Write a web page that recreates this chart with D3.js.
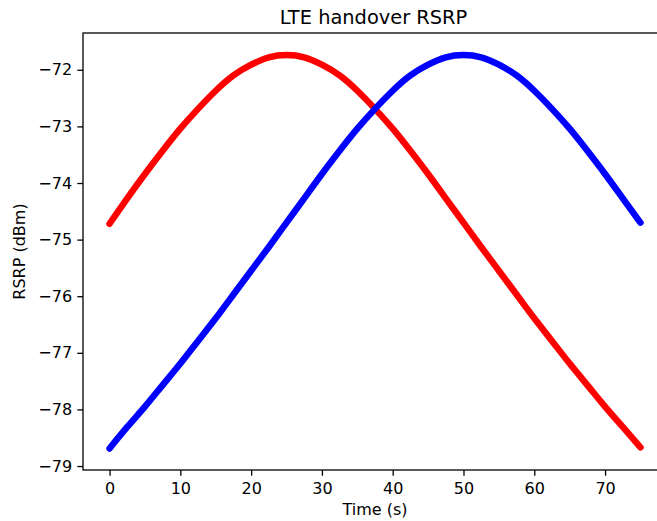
<!DOCTYPE html>
<html>
<head>
<meta charset="utf-8">
<script src="https://cdn.jsdelivr.net/npm/d3@7"></script>
<style>
  body { margin: 0; background: #fff; }
  svg { display: block; }
  text { font-family: "DejaVu Sans", sans-serif; fill: #000; }
</style>
</head>
<body>
<svg id="chart" width="657" height="521"></svg>
<script>

// time axis (s), sampled every 2.5 s
var times = [0, 2.5, 5, 7.5, 10, 12.5, 15, 17.5, 20, 22.5, 25, 27.5, 30, 32.5, 35, 37.5,
             40, 42.5, 45, 47.5, 50, 52.5, 55, 57.5, 60, 62.5, 65, 67.5, 70, 72.5, 75];

// serving cell (red)
var rsrpRed = [-74.72, -74.27, -73.84, -73.43, -73.04, -72.69, -72.37, -72.10, -71.91, -71.78, -71.74,
               -71.78, -71.91, -72.10, -72.37, -72.69, -73.04, -73.43, -73.84, -74.27, -74.70,
               -75.13, -75.55, -75.97, -76.39, -76.79, -77.19, -77.57, -77.95, -78.31, -78.67];

// target cell (blue)
var rsrpBlue = [-78.69, -78.31, -77.95, -77.57, -77.19, -76.79, -76.39, -75.97, -75.55, -75.13, -74.70,
                -74.27, -73.84, -73.43, -73.04, -72.69, -72.37, -72.10, -71.91, -71.78, -71.74,
                -71.78, -71.91, -72.10, -72.37, -72.69, -73.04, -73.43, -73.84, -74.27, -74.70];

var xTicks = [0, 10, 20, 30, 40, 50, 60, 70];
var yTicks = [-79, -78, -77, -76, -75, -74, -73, -72];

var svg = d3.select('#chart');

// plot box (right edge falls just outside the picture)
var pLeft = 83, pRight = 667, pTop = 33, pBottom = 470;

var x = d3.scaleLinear().domain([-3.75, 78.75]).range([pLeft, pRight]);
var y = d3.scaleLinear().domain([-79.07, -71.35]).range([pBottom, pTop]);

var fs = 16;

// curves
var line = d3.line()
	.x(function(d){ return x(d[0]) })
	.y(function(d){ return y(d[1]) })
	.curve(d3.curveNatural);

var series = [
	{ color: '#ff0000', values: rsrpRed },
	{ color: '#0000ff', values: rsrpBlue }
];

series.forEach(function(s){
	svg.append('path')
		.datum(times.map(function(t, i){ return [t, s.values[i]] }))
		.attr('d', line)
		.attr('fill', 'none')
		.attr('stroke', s.color)
		.attr('stroke-width', 6.5)
		.attr('stroke-linecap', 'round')
		.attr('stroke-linejoin', 'round');
});

// axes
var xAxis = d3.axisBottom(x).tickValues(xTicks).tickSize(5.7).tickPadding(7).tickFormat(d3.format('d'));
var yAxis = d3.axisLeft(y).tickValues(yTicks).tickSize(5.7).tickPadding(5.2).tickFormat(d3.format('d'));

var gx = svg.append('g').attr('transform', 'translate(0,' + pBottom + ')').call(xAxis);
var gy = svg.append('g').attr('transform', 'translate(' + pLeft + ',0)').call(yAxis);

[gx, gy].forEach(function(g){
	g.select('.domain').remove();
	g.selectAll('line').attr('stroke', '#000').attr('stroke-width', 1.3);
	g.selectAll('text').attr('font-size', fs).attr('font-family', '"DejaVu Sans", sans-serif').attr('fill', '#000');
});

// frame
svg.append('rect')
	.attr('x', pLeft).attr('y', pTop)
	.attr('width', pRight - pLeft).attr('height', pBottom - pTop)
	.attr('fill', 'none')
	.attr('stroke', '#000')
	.attr('stroke-width', 1.3);

// labels
svg.append('text')
	.attr('x', (pLeft + pRight) / 2 - 1.5)
	.attr('y', 24)
	.attr('text-anchor', 'middle')
	.attr('font-size', 19.4)
	.text('LTE handover RSRP');

svg.append('text')
	.attr('x', (pLeft + pRight) / 2)
	.attr('y', 515)
	.attr('text-anchor', 'middle')
	.attr('font-size', fs)
	.text('Time (s)');

svg.append('text')
	.attr('transform', 'translate(25,' + ((pTop + pBottom) / 2) + ') rotate(-90)')
	.attr('text-anchor', 'middle')
	.attr('font-size', fs)
	.text('RSRP (dBm)');

</script>
</body>
</html>
